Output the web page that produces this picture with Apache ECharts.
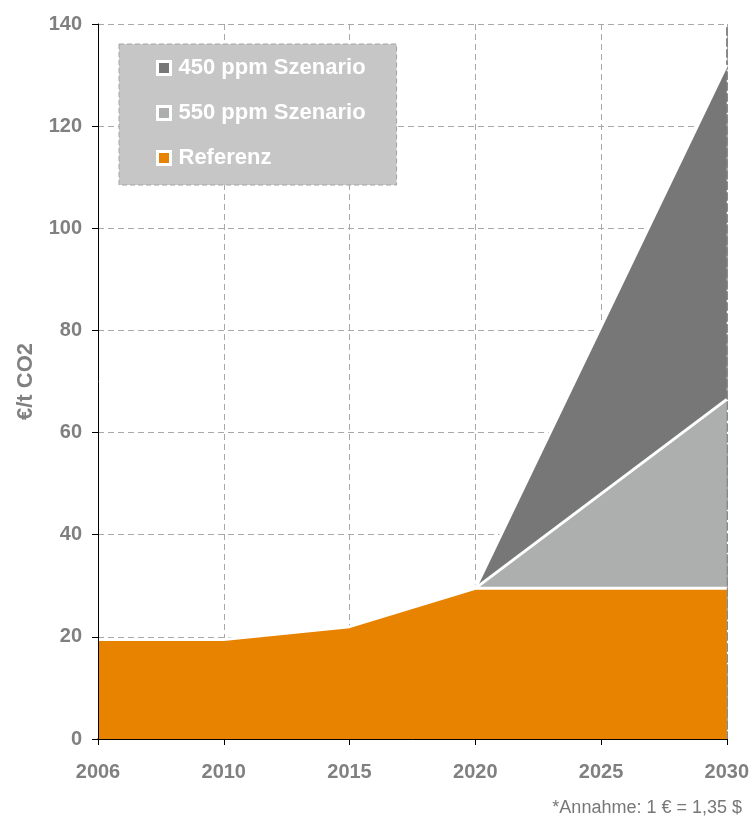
<!DOCTYPE html>
<html>
<head>
<meta charset="utf-8">
<script src="https://cdn.jsdelivr.net/npm/echarts@6/dist/echarts.min.js"></script>
<style>
  html, body { margin: 0; padding: 0; background: #ffffff; }
  #chart { width: 752px; height: 820px; }
</style>
</head>
<body>
<div id="chart"></div>
<script>
// CO2 price paths (€/t CO2)
const years = ['2006', '2010', '2015', '2020', '2025', '2030'];
const referenz = [19.5, 19.5, 22, 29.5, 29.5, 29.5];
const szenario550 = [null, null, null, 29.5, null, 66.5];
const szenario450 = [null, null, null, 29.5, null, 132];
const seriesNames = ['450 ppm Szenario', '550 ppm Szenario', 'Referenz'];
const yMin = 0, yMax = 140, yStep = 20;

const FONT = '"Liberation Sans", Arial, Helvetica, sans-serif';
const GREY_TEXT = '#808080';

const chart = echarts.init(document.getElementById('chart'), null, { renderer: 'canvas' });

const areaSeries = (name, data, color) => ({
  name,
  type: 'line',
  data,
  xAxisIndex: 0,
  yAxisIndex: 0,
  connectNulls: true,
  symbol: 'none',
  showSymbol: false,
  color,
  itemStyle: { color },
  lineStyle: { color: '#ffffff', width: 3 },
  areaStyle: { color, opacity: 1 },
  emphasis: { disabled: true },
  silent: true
});

chart.setOption({
  animation: false,
  backgroundColor: '#ffffff',
  grid: { left: 98, right: 24, top: 24, bottom: 81, containLabel: false },
  legend: {
    data: seriesNames,
    orient: 'vertical',
    left: 119,
    top: 44,
    icon: 'rect',
    itemWidth: 13,
    itemHeight: 13,
    itemGap: 23,
    selectedMode: false,
    padding: [13, 31, 16, 37],
    backgroundColor: '#c6c6c6',
    borderColor: '#a3a3a3',
    borderWidth: 1,
    borderType: [5, 3],
    itemStyle: { borderColor: '#ffffff', borderWidth: 3 },
    textStyle: { color: '#ffffff', fontFamily: FONT, fontWeight: 'bold', fontSize: 22, padding: [0, 0, 0, 3] }
  },
  xAxis: [
    {
      type: 'category',
      data: years,
      boundaryGap: false,
      position: 'bottom',
      z: 5,
      axisLine: { show: true, lineStyle: { color: '#000000', width: 1 } },
      axisTick: { show: true, length: 6, lineStyle: { color: '#000000' } },
      axisLabel: { color: GREY_TEXT, fontFamily: FONT, fontWeight: 'bold', fontSize: 20, margin: 23 },
      splitLine: { show: false }
    },
    {
      type: 'category',
      data: years,
      boundaryGap: false,
      position: 'top',
      z: 0,
      axisLine: { show: true, lineStyle: { color: '#888888', width: 2, type: [7, 4] } },
      axisTick: { show: false },
      axisLabel: { show: false },
      splitLine: { show: true, lineStyle: { color: '#a8a8a8', width: 1, type: [6, 4] } }
    }
  ],
  yAxis: [
    {
      type: 'value',
      min: yMin, max: yMax, interval: yStep,
      position: 'left',
      z: 5,
      name: '€/t CO2',
      nameLocation: 'middle',
      nameGap: 61,
      nameTextStyle: { color: GREY_TEXT, fontFamily: FONT, fontWeight: 'bold', fontSize: 22 },
      axisLine: { show: true, lineStyle: { color: '#000000', width: 1 } },
      axisTick: { show: true, length: 6, lineStyle: { color: '#000000' } },
      axisLabel: { color: GREY_TEXT, fontFamily: FONT, fontWeight: 'bold', fontSize: 20, margin: 16 },
      splitLine: { show: false }
    },
    {
      type: 'value',
      min: yMin, max: yMax, interval: yStep,
      position: 'right',
      z: 0,
      axisLine: { show: true, lineStyle: { color: '#888888', width: 2, type: [7, 4] } },
      axisTick: { show: false },
      axisLabel: { show: false },
      splitLine: { show: true, lineStyle: { color: '#a8a8a8', width: 1, type: [6, 4] } }
    }
  ],
  series: [
    areaSeries(seriesNames[0], szenario450, '#777777'),
    areaSeries(seriesNames[1], szenario550, '#adafaf'),
    areaSeries(seriesNames[2], referenz, '#e88300')
  ],
  graphic: [
    {
      type: 'text',
      right: 10,
      top: 799,
      style: {
        text: '*Annahme: 1 € = 1,35 $',
        fill: '#777777',
        font: '18px ' + FONT
      }
    }
  ]
});
</script>
</body>
</html>
